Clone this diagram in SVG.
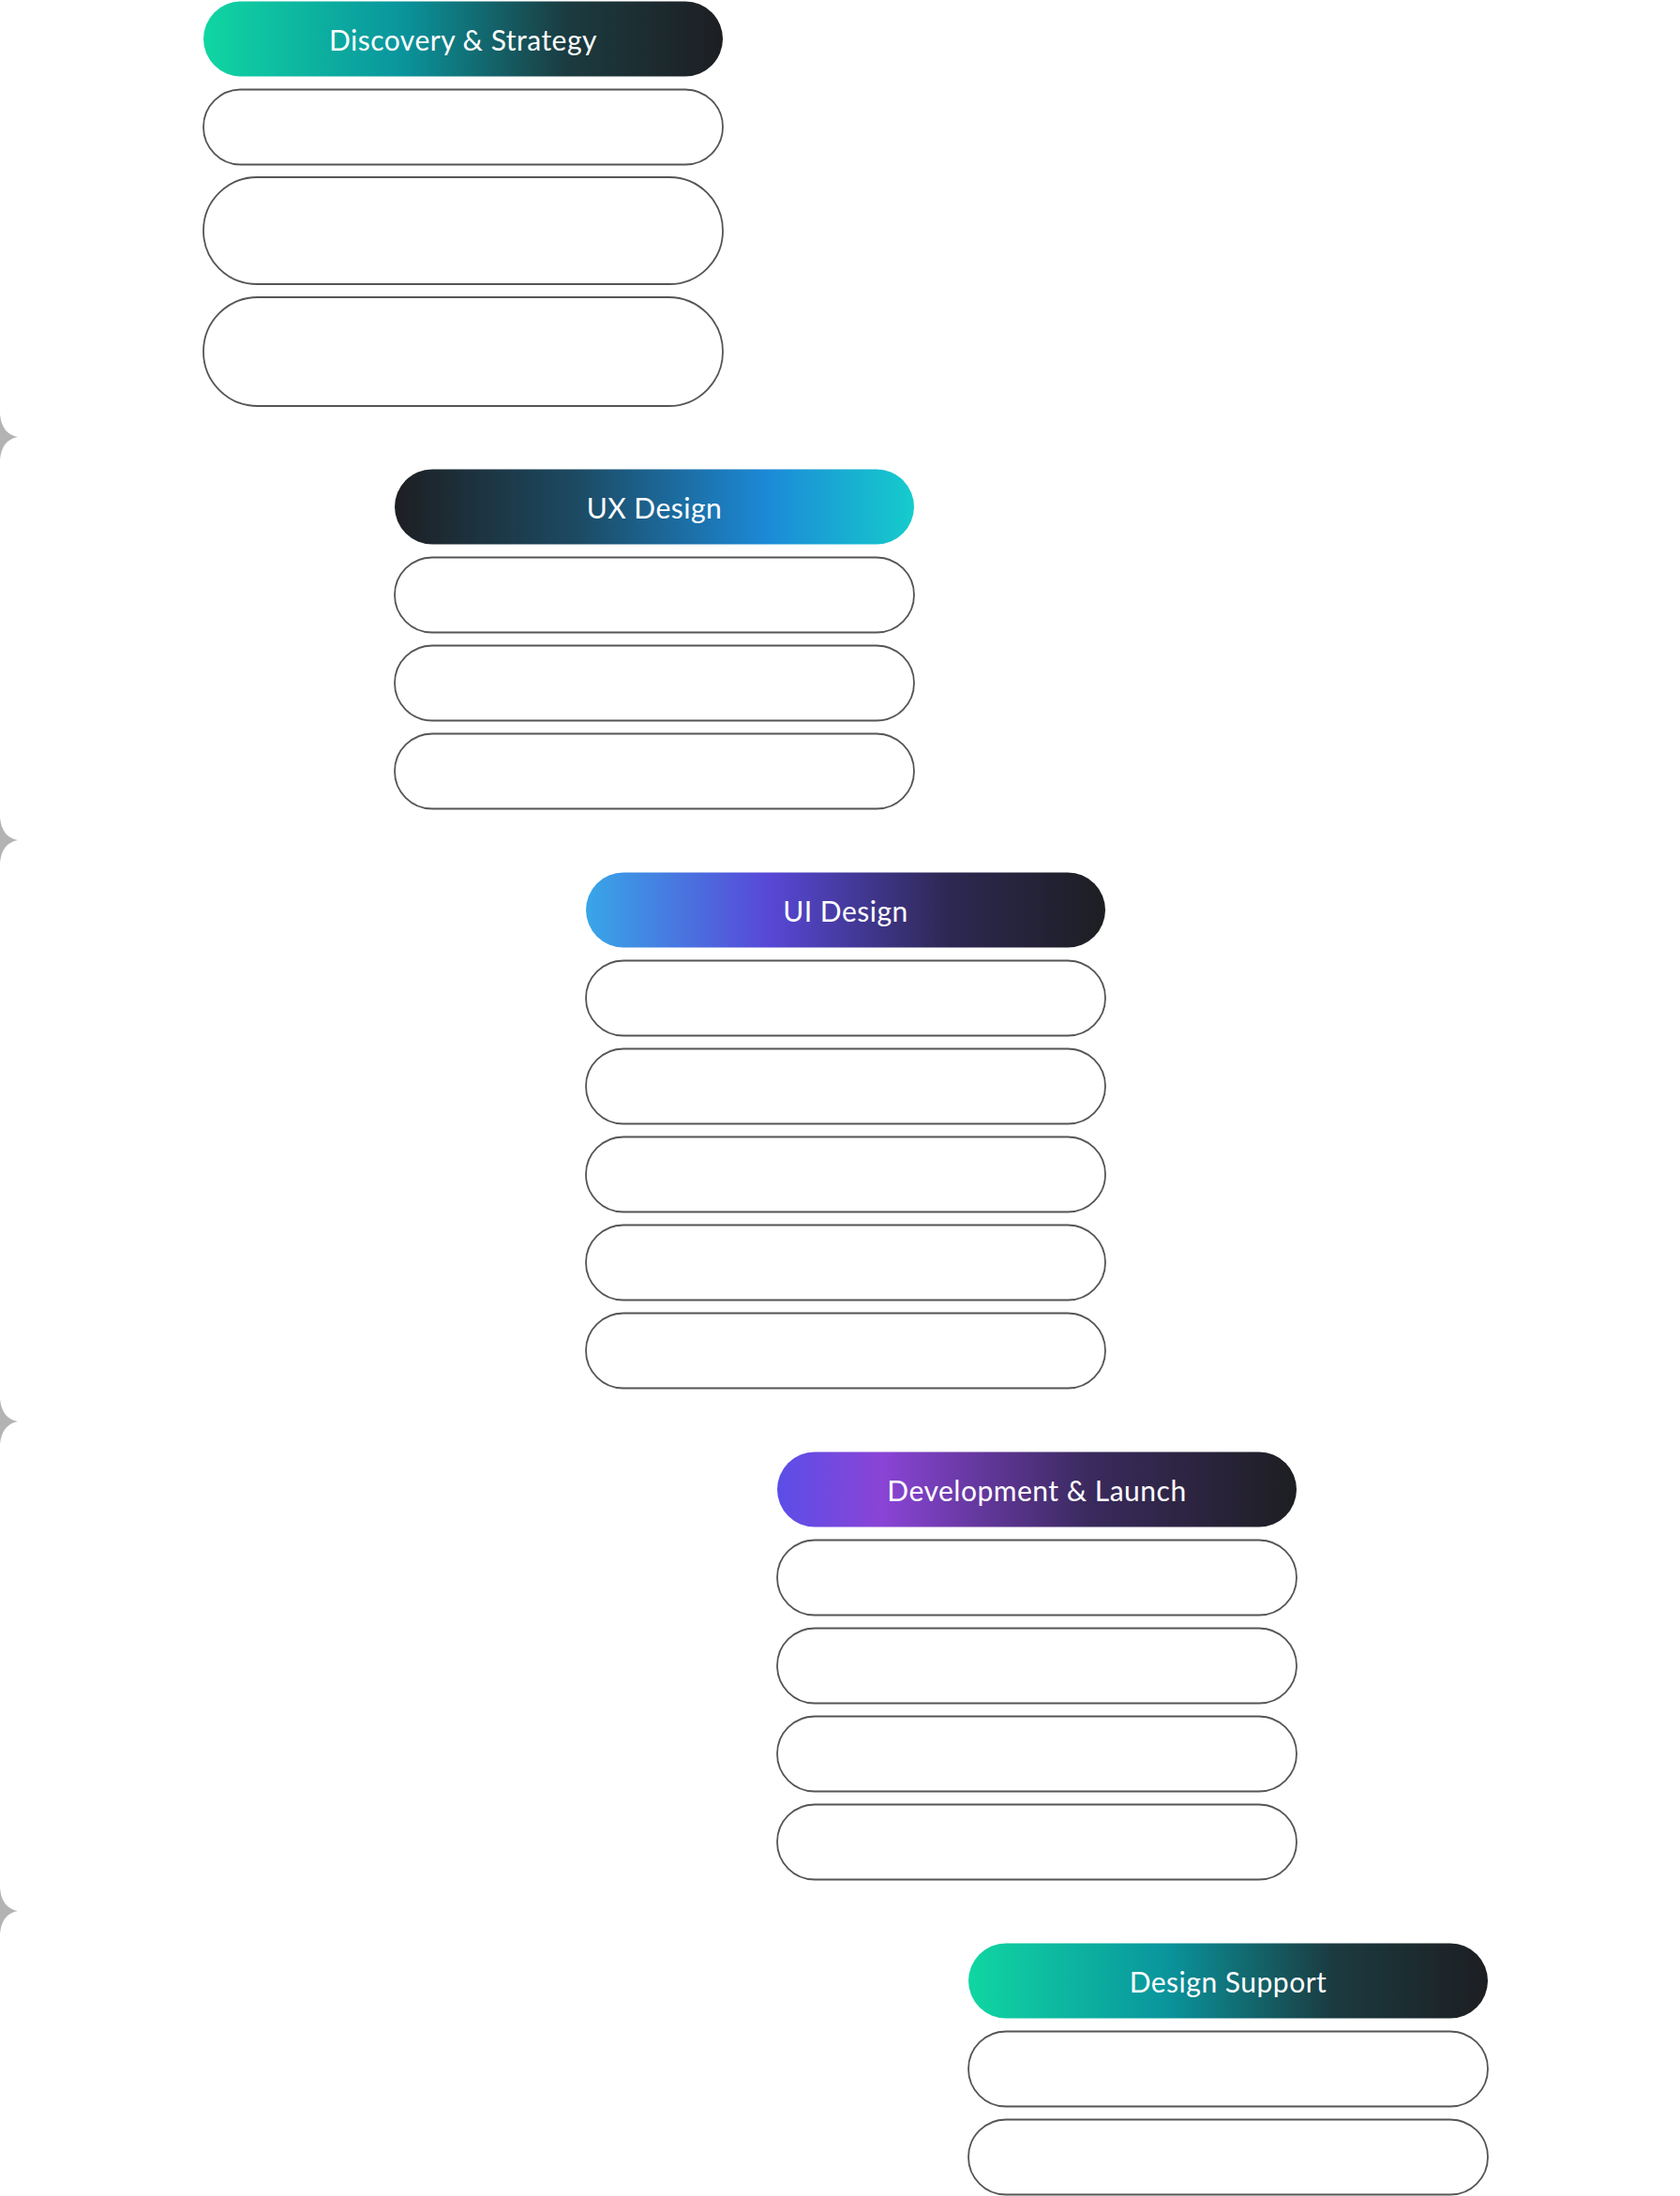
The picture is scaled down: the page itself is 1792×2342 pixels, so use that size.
<svg xmlns="http://www.w3.org/2000/svg" width="1792" height="2342" viewBox="0 0 1792 2342">
<style>
.box{fill:#fff;stroke:#555;stroke-width:1.8}
.hd{font-family:Lato,"Noto Sans",sans-serif;font-size:30px;fill:#fff;text-anchor:middle;dominant-baseline:central;letter-spacing:0.5px}
.star{fill:#b3b3b3}
</style>
<defs>
<linearGradient id="g1" x1="0" x2="1" y1="0" y2="0"><stop offset="0" stop-color="#10d6a2"/><stop offset="0.38" stop-color="#0a959d"/><stop offset="0.7" stop-color="#1b3b40"/><stop offset="1" stop-color="#1d1e22"/></linearGradient>
<linearGradient id="g2" x1="0" x2="1" y1="0" y2="0"><stop offset="0" stop-color="#1d1f22"/><stop offset="0.35" stop-color="#1c4a62"/><stop offset="0.72" stop-color="#1c8ad8"/><stop offset="1" stop-color="#15cccc"/></linearGradient>
<linearGradient id="g3" x1="0" x2="1" y1="0" y2="0"><stop offset="0" stop-color="#38a6e8"/><stop offset="0.35" stop-color="#5848d8"/><stop offset="0.7" stop-color="#2d2852"/><stop offset="1" stop-color="#1d1e22"/></linearGradient>
<linearGradient id="g4" x1="0" x2="1" y1="0" y2="0"><stop offset="0" stop-color="#5a4ee8"/><stop offset="0.2" stop-color="#8a44d6"/><stop offset="0.6" stop-color="#3a2a5e"/><stop offset="1" stop-color="#1d1e22"/></linearGradient>
<path id="st" d="M0,-24 Q2,-3 19,0 Q2,3 0,24 Q-2,3 -19,0 Q-2,-3 0,-24Z"/>
</defs>
<g id="connectors">
<use href="#st" class="star" x="0" y="466"/>
<use href="#st" class="star" x="0" y="896"/>
<use href="#st" class="star" x="0" y="1516"/>
<use href="#st" class="star" x="0" y="2038"/>
</g>
<g id="discovery">
<rect x="217" y="1.5" width="554" height="80" rx="40" fill="url(#g1)"/>
<text class="hd" x="494" y="42">Discovery &amp; Strategy</text>
<rect class="box" x="217" y="95.5" width="554" height="80" rx="40"/>
<rect class="box" x="217" y="189" width="554" height="114" rx="57"/>
<rect class="box" x="217" y="317" width="554" height="116" rx="58"/>
</g>
<g id="ux">
<rect x="421" y="500.5" width="554" height="80" rx="40" fill="url(#g2)"/>
<text class="hd" x="698" y="541">UX Design</text>
<rect class="box" x="421" y="594.5" width="554" height="80" rx="40"/>
<rect class="box" x="421" y="688.5" width="554" height="80" rx="40"/>
<rect class="box" x="421" y="782.5" width="554" height="80" rx="40"/>
</g>
<g id="ui">
<rect x="625" y="930.5" width="554" height="80" rx="40" fill="url(#g3)"/>
<text class="hd" x="902" y="971">UI Design</text>
<rect class="box" x="625" y="1024.5" width="554" height="80" rx="40"/>
<rect class="box" x="625" y="1118.5" width="554" height="80" rx="40"/>
<rect class="box" x="625" y="1212.5" width="554" height="80" rx="40"/>
<rect class="box" x="625" y="1306.5" width="554" height="80" rx="40"/>
<rect class="box" x="625" y="1400.5" width="554" height="80" rx="40"/>
</g>
<g id="dev">
<rect x="829" y="1548.5" width="554" height="80" rx="40" fill="url(#g4)"/>
<text class="hd" x="1106" y="1589">Development &amp; Launch</text>
<rect class="box" x="829" y="1642.5" width="554" height="80" rx="40"/>
<rect class="box" x="829" y="1736.5" width="554" height="80" rx="40"/>
<rect class="box" x="829" y="1830.5" width="554" height="80" rx="40"/>
<rect class="box" x="829" y="1924.5" width="554" height="80" rx="40"/>
</g>
<g id="support">
<rect x="1033" y="2072.5" width="554" height="80" rx="40" fill="url(#g1)"/>
<text class="hd" x="1310" y="2113">Design Support</text>
<rect class="box" x="1033" y="2166.5" width="554" height="80" rx="40"/>
<rect class="box" x="1033" y="2260.5" width="554" height="80" rx="40"/>
</g>
</svg>
